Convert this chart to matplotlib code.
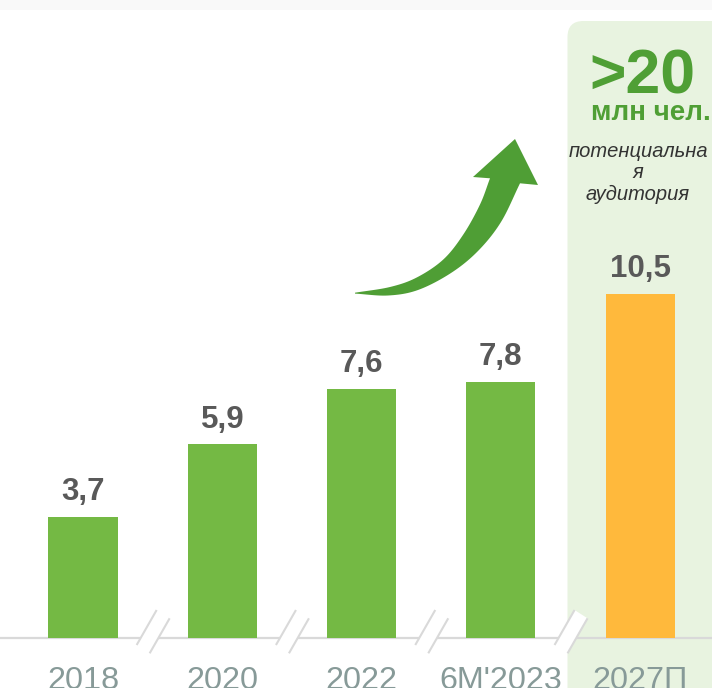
import matplotlib
matplotlib.use('Agg')
import numpy as np
import matplotlib.pyplot as plt
from matplotlib.patches import FancyBboxPatch, Rectangle, Polygon
import matplotlib.transforms as mtransforms

# ---- data ----
categories = ['2018', '2020', '2022', "6M'2023", '2027П']
values = [3.7, 5.9, 7.6, 7.8, 10.5]
value_labels = ['3,7', '5,9', '7,6', '7,8', '10,5']
bar_colors = ['#74b944', '#74b944', '#74b944', '#74b944', '#ffb93c']
headline = '>20'
headline_unit = 'млн чел.'
note_lines = ['потенциальна', 'я', 'аудитория']

W, H = 712, 688
plt.rcParams['font.family'] = ['Liberation Sans', 'DejaVu Sans']

fig = plt.figure(figsize=(W / 100, H / 100), dpi=100)
fig.patch.set_facecolor('white')
ax = fig.add_axes([0, 0, 1, 1])
ax.set_facecolor('none')
ax.axis('off')

x_first_px = 83
step_px = 139.3
base_px = 50      # baseline height from bottom
unit_px = 32.8
ax.set_xlim(-x_first_px / step_px, (W - x_first_px) / step_px)
ax.set_ylim(-base_px / unit_px, (H - base_px) / unit_px)

# pixel transform (origin top-left, y down) for decorations
pix = mtransforms.Affine2D().scale(1 / W, -1 / H).translate(0, 1) + fig.transFigure

# faint top strip
ax.add_patch(Rectangle((0, 0), W, 10, transform=pix, fc='#f9f9f9', ec='none', zorder=0))

# highlight panel
ax.add_patch(FancyBboxPatch((567.5, 21), 220, 720,
                            boxstyle='round,pad=0,rounding_size=16',
                            transform=pix, fc='#e8f3e0', ec='none', zorder=0))

# baseline
ax.axhline(0, color='#d9d9d9', lw=1.6, zorder=1)

x = list(range(len(categories)))

# axis break marks
for i in range(len(categories) - 1):
    xm = ax.transData.transform((i + 0.5, 0))[0]
    ca = (xm - 6, 627.5)
    cb = (xm + 7, 635.8)
    dx, dy = 10, 17.5
    a0, a1 = (ca[0] - dx, ca[1] + dy), (ca[0] + dx, ca[1] - dy)
    b0, b1 = (cb[0] - dx, cb[1] + dy), (cb[0] + dx, cb[1] - dy)
    ax.add_patch(Polygon([a0, a1, b1, b0], closed=True, transform=pix,
                         fc='white', ec='none', zorder=2))
    for p0, p1 in ((a0, a1), (b0, b1)):
        ax.plot([p0[0], p1[0]], [p0[1], p1[1]], transform=pix,
                color='#d9d9d9', lw=1.5, zorder=3, solid_capstyle='butt')

# bars
ax.bar(x, values, width=69 / step_px, color=bar_colors, zorder=4)

# value labels
for i, (v, lbl) in enumerate(zip(values, value_labels)):
    ax.annotate(lbl, (i, v), xytext=(0, 12.2), textcoords='offset points',
                ha='center', va='baseline', fontsize=22.5, fontweight='bold',
                color='#595959', zorder=5)

# category labels
for i, cat in enumerate(categories):
    ax.annotate(cat, (i, 0), xytext=(0, -36.4), textcoords='offset points',
                ha='center', va='baseline', fontsize=23.3, color='#879a98',
                annotation_clip=False, zorder=5)

# headline text
ax.text(642.5, 93, headline, transform=pix, ha='center', va='baseline',
        fontsize=45, fontweight='bold', color='#4f9f35', zorder=5)
ax.text(651, 120, headline_unit, transform=pix, ha='center', va='baseline',
        fontsize=20, fontweight='bold', color='#4f9f35', zorder=5)
for yb, line in zip([157, 178, 200], note_lines):
    ax.text(638, yb, line, transform=pix, ha='center', va='baseline',
            fontsize=14.5, style='italic', color='#333333', zorder=5)


# curved arrow (decoration) built from a smooth outline
def catmull_rom(pts, n=12):
    pts = np.asarray(pts, float)
    ext = np.vstack([2 * pts[0] - pts[1], pts, 2 * pts[-1] - pts[-2]])
    out = []
    for k in range(1, len(ext) - 2):
        p0, p1, p2, p3 = ext[k - 1], ext[k], ext[k + 1], ext[k + 2]
        for t in np.linspace(0, 1, n, endpoint=False):
            t2, t3 = t * t, t * t * t
            out.append(0.5 * ((2 * p1) + (-p0 + p2) * t +
                              (2 * p0 - 5 * p1 + 4 * p2 - p3) * t2 +
                              (-p0 + 3 * p1 - 3 * p2 + p3) * t3))
    out.append(pts[-1])
    return np.array(out)


top_edge = [(355, 292.7), (390, 287.0), (416.7, 277.5),
            (443.3, 259.5), (463.3, 234.5), (480, 204.5), (490, 178.3)]
bottom_edge = [(520, 183.3), (501, 222), (478, 251), (451, 273),
               (418, 290), (388, 295.5), (355, 293.6)]
head = [(473, 177), (515, 139), (538, 185)]
outline = np.vstack([catmull_rom(top_edge), head, catmull_rom(bottom_edge)])
ax.add_patch(Polygon(outline, closed=True, transform=pix, fc='#4f9e35',
                     ec='none', zorder=5))

fig.savefig('out.png', dpi=100)
